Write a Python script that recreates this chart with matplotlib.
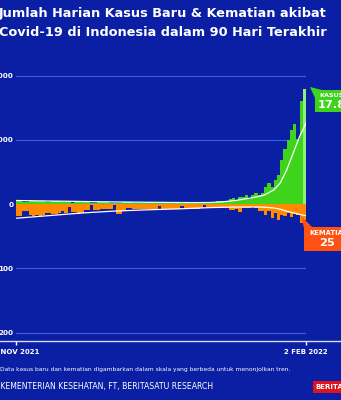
import numpy as np
import matplotlib
matplotlib.use("Agg")
import matplotlib.pyplot as plt
from matplotlib.patches import Rectangle, Polygon
from matplotlib.lines import Line2D

# ---- data (Nov 5, 2021 .. Feb 2, 2022; 90 days) ----
cases = [526, 480, 377, 320, 435, 480, 432,
         475, 407, 297, 264, 420, 475, 419,
         372, 338, 276, 243, 355, 400, 370,
         366, 322, 176, 200, 302, 321, 297,
         268, 247, 206, 194, 238, 297, 272,
         279, 230, 196, 188, 237, 260, 220,
         191, 210, 149, 141, 188, 221, 217,
         208, 196, 114, 139, 166, 219, 194,
         175, 274, 174, 265, 299, 404, 533,
         479, 529, 414, 802, 892, 646, 1116,
         1054, 1362, 855, 1400, 1700, 1362, 1745,
         2604, 3205, 2700, 3700, 4600, 6800, 8500,
         9900, 11600, 12400, 10200, 16000, 17895]
deaths = [19, 18, 11, 11, 17, 18, 17, 18, 17, 14,
          14, 15, 15, 14, 11, 14, 5, 12, 12, 15,
          14, 9, 9, 2, 9, 9, 8, 8, 8, 8,
          2, 15, 15, 10, 6, 6, 8, 7, 8, 7,
          8, 7, 8, 7, 3, 8, 7, 8, 7, 8,
          7, 3, 7, 8, 6, 7, 8, 6, 2, 5,
          5, 5, 4, 5, 5, 5, 9, 9, 8, 12,
          6, 6, 6, 4, 6, 10, 10, 17, 11, 22,
          14, 25, 17, 19, 14, 20, 15, 17, 29, 25]
trend_days = [0, 10, 20, 30, 40, 50, 55, 60, 64, 68, 72, 75, 77, 80, 82, 84, 86, 88, 90]
cases_trend = [560, 480, 410, 340, 290, 250, 240, 250, 350, 560, 880, 1150, 1400, 2200, 3270, 5300, 7900, 10500, 12600]
deaths_trend = [22, 18, 14, 11, 9, 7.5, 6.5, 5.5, 5, 4.6, 4.5, 4.5, 4.8, 6, 8, 11, 13.5, 16, 18]
death_scale = 100
ytick_vals = [20000, 10000, 0, -10000, -20000]
ytick_labels = ["20.000", "10.000", "0", "100", "200"]
xtick_labels = ["4 NOV 2021", "2 FEB 2022"]

BG = "#0a1fa3"
GREEN = "#3fd41c"
GREEN_LAST = "#8ef07a"
ORANGE = "#ff8a00"
RED = "#ff5212"
GRID = "#3d5fe6"

W, H = 341, 400
fig = plt.figure(figsize=(W / 100, H / 100), dpi=100, facecolor=BG)
plt.rcParams['font.family'] = ['DejaVu Sans']

def fx(px):
    return px / W

def fy(py):
    return 1 - py / H

ax = fig.add_axes([fx(16), fy(341), fx(306) - fx(16), fy(60) - fy(341)])
ax.set_facecolor(BG)
scale = (332.7 - 75.5) / 40000.0
ylo = -20000 - (341 - 332.7) / scale
yhi = 20000 + (75.5 - 60) / scale
ax.set_xlim(0, 90)
ax.set_ylim(ylo, yhi)

for v in ytick_vals:
    if v != 0:
        ax.axhline(v, color=GRID, lw=0.8, zorder=0)

n = len(cases)
x = np.arange(n)
colors = [GREEN] * (n - 1) + [GREEN_LAST]
ax.bar(x, cases, width=1.0, align='edge', color=colors, linewidth=0, zorder=2)
ax.bar(x, -np.array(deaths) * death_scale, width=1.0, align='edge', color=ORANGE, linewidth=0, zorder=2)
ax.plot(trend_days, cases_trend, color='white', lw=0.9, zorder=3)
ax.plot(trend_days, -np.array(deaths_trend) * death_scale, color='white', lw=0.9, zorder=3)

for s in ax.spines.values():
    s.set_visible(False)
ax.set_yticks(ytick_vals)
ax.set_yticklabels(ytick_labels)
ax.set_xticks([0, 90])
ax.set_xticklabels(xtick_labels)
ax.tick_params(axis='y', length=0, pad=2, labelsize=5.2, labelcolor='white')
ax.tick_params(axis='x', length=3, width=1, color='white', pad=3, labelsize=5.0, labelcolor='white', direction='out')
for lab in ax.get_xticklabels() + ax.get_yticklabels():
    lab.set_fontweight('bold')

# full-width axis line
fig.add_artist(Line2D([0, 1], [fy(341), fy(341)], color='#d8def5', lw=1.0, transform=fig.transFigure))

# title
fig.text(fx(-1), fy(13), "Jumlah Harian Kasus Baru & Kematian akibat", color='white',
         fontsize=9.25, fontweight='bold', ha='left', va='center')
fig.text(fx(-1), fy(32), "Covid-19 di Indonesia dalam 90 Hari Terakhir", color='white',
         fontsize=9.25, fontweight='bold', ha='left', va='center')

# notes
fig.text(fx(290), fy(370), "Data kasus baru dan kematian digambarkan dalam skala yang berbeda untuk menonjolkan tren.",
         color='white', fontsize=4.35, ha='right', va='center')
fig.text(fx(213), fy(386), "SUMBER: KEMENTERIAN KESEHATAN, FT, BERITASATU RESEARCH",
         color='white', fontsize=5.55, ha='right', va='center')

# logo
fig.add_artist(Rectangle((fx(313), fy(393)), fx(341) - fx(313), fy(381) - fy(393),
                         transform=fig.transFigure, color='#e0121b', lw=0))
fig.text(fx(315), fy(387), "BERITASATU", color='white', fontsize=5.0, fontweight='bold', ha='left', va='center')

# KASUS callout
fig.add_artist(Polygon([(fx(310), fy(87)), (fx(322), fy(90)), (fx(315), fy(98))],
                       closed=True, transform=fig.transFigure, color=GREEN, lw=0))
fig.add_artist(Rectangle((fx(315), fy(112)), fx(350) - fx(315), fy(90) - fy(112),
                         transform=fig.transFigure, color=GREEN, lw=0))
fig.text(fx(319), fy(95.5), "KASUS", color='white', fontsize=4.6, fontweight='bold', ha='left', va='center')
fig.text(fx(318), fy(105), "17.895", color='white', fontsize=8.2, fontweight='bold', ha='left', va='center')

# KEMATIAN callout
fig.add_artist(Polygon([(fx(301), fy(216)), (fx(304), fy(228)), (fx(313), fy(228))],
                       closed=True, transform=fig.transFigure, color=RED, lw=0))
fig.add_artist(Rectangle((fx(304), fy(251)), fx(350) - fx(304), fy(227) - fy(251),
                         transform=fig.transFigure, color=RED, lw=0))
fig.text(fx(309), fy(233), "KEMATIAN", color='white', fontsize=4.9, fontweight='bold', ha='left', va='center')
fig.text(fx(327), fy(243.5), "25", color='white', fontsize=8.2, fontweight='bold', ha='center', va='center')

fig.savefig("out.png", dpi=100, facecolor=BG)
